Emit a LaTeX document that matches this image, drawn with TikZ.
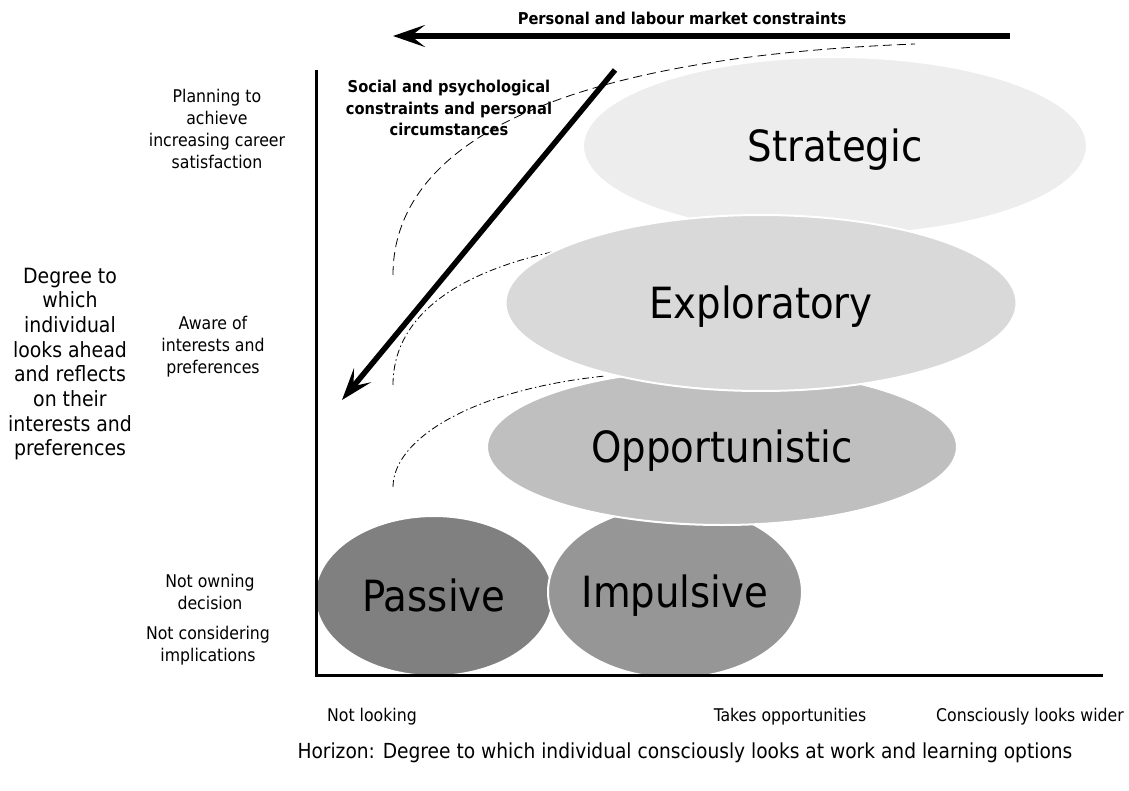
\documentclass[tikz,border=0pt]{standalone}
\usepackage{fontspec}
\setmainfont{DejaVu Sans Condensed}
\usepackage{tikz}
\usetikzlibrary{arrows.meta,shapes.geometric}

\tikzset{
  blob/.style={ellipse,draw=white,line width=2pt,inner sep=0pt},
  blobtext/.style={inner sep=0pt,text height=31pt,text depth=0pt,font=\fontsize{43}{48}\selectfont},
  lbl/.style={align=center,font=\fontsize{17.5}{22}\selectfont,inner sep=0pt},
  boldlbl/.style={align=center,font=\fontsize{16.3}{21.5}\selectfont\bfseries,inner sep=0pt},
  biglbl/.style={align=center,font=\fontsize{21}{24.7}\selectfont,inner sep=0pt},
  bigarrow/.style={line width=6pt,-{Stealth[length=32pt,width=22pt,inset=14pt]}},
  guide/.style={line width=0.8pt}
}

\begin{document}
\begin{tikzpicture}[x=1pt,y=-1pt]
      \useasboundingbox (0,0) rectangle (1129,791);
      %guide curves
      \draw[guide,dashed,dash pattern=on 9pt off 5pt] (393,275) .. controls (393,170) and (500,60) .. (915,44);
      \draw[guide,dash pattern=on 7pt off 3pt on 1.5pt off 3pt] (393,385) .. controls (393,320) and (450,275) .. (552,252);
      \draw[guide,dash pattern=on 7pt off 3pt on 1.5pt off 3pt] (393,487) .. controls (393,440) and (470,390) .. (605,376);
      %ellipses
      \node[blob,fill=black!50,minimum width=238pt,minimum height=160pt,label={[blobtext]center:Passive}] (passive) at (434,596) {};
      \node[blob,fill=black!41,minimum width=254pt,minimum height=172pt,label={[blobtext]center:Impulsive}] (impulsive) at (675,592) {};
      \node[blob,fill=black!25,minimum width=470pt,minimum height=156pt,label={[blobtext]center:Opportunistic}] (opportunistic) at (722,447) {};
      \node[blob,fill=black!7,minimum width=504pt,minimum height=178pt,label={[blobtext]center:Strategic}] (strategic) at (835,146) {};
      \node[blob,fill=black!15,minimum width=511pt,minimum height=176pt,label={[blobtext]center:Exploratory}] (exploratory) at (761,303) {};
      %axes
      \coordinate (top) at (316,70);
      \coordinate (origin) at (316,675);
      \coordinate (right) at (1103,675);
      \draw[line width=3pt] (top) -- (origin) -- (right);
      %constraint arrows
      \coordinate (pr) at (1010,36);
      \coordinate (pl) at (393,36);
      \draw[bigarrow] (pr) -- (pl);
      \coordinate (sr) at (615,70);
      \coordinate (sl) at (342,400);
      \draw[bigarrow,line width=5.5pt] (sr) -- (sl);
      \node[boldlbl] (labour) at (682,18) {Personal and labour market constraints};
      \node[boldlbl] (social) at (449,108) {Social and psychological\\constraints and personal\\circumstances};
      %vertical axis labels
      \node[lbl] (planning) at (217,129) {Planning to\\achieve\\increasing career\\satisfaction};
      \node[lbl] (aware) at (213,347) {Aware of\\interests and\\preferences};
      \node[lbl] (owning) at (210,592) {Not owning\\decision};
      \node[lbl] (implications) at (208,646) {Not considering\\implications};
      \node[biglbl] (degree) at (70,364) {Degree to\\which\\individual\\looks ahead\\and reflects\\on their\\interests and\\preferences};
      %horizontal axis labels
      \node[lbl] (notlooking) at (372,717) {Not looking};
      \node[lbl] (takes) at (790,717) {Takes opportunities};
      \node[lbl] (wider) at (1030,717) {Consciously looks wider};
      \node[lbl,font=\fontsize{20.7}{24}\selectfont] (horizon) at (685,753) {Horizon: Degree to which individual consciously looks at work and learning options};
\end{tikzpicture}
\end{document}
